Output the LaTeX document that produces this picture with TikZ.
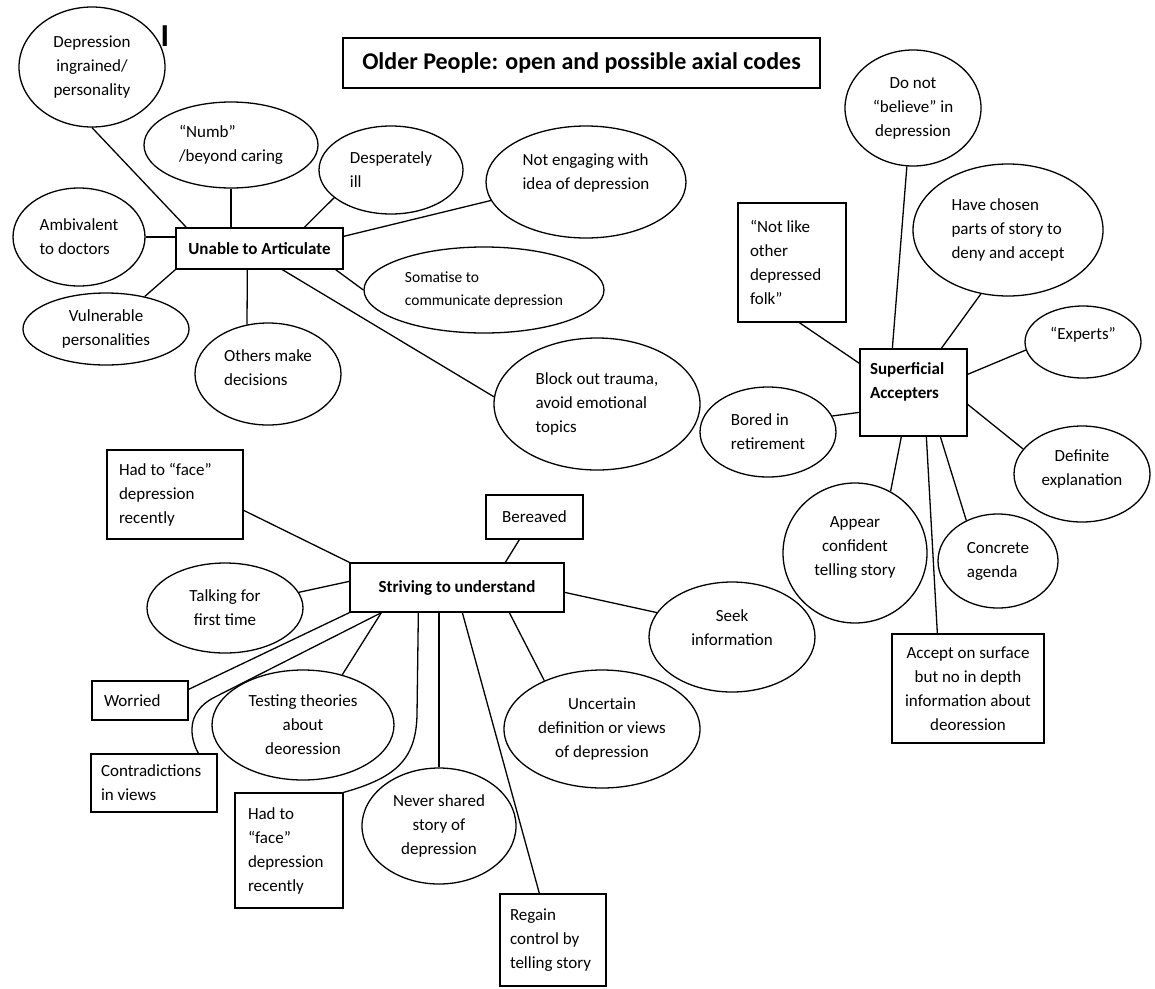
\documentclass[tikz,border=0pt]{standalone}
\usepackage{fontspec}
\setmainfont{Carlito}
\usetikzlibrary{shapes.geometric,calc}
\begin{document}
\begin{tikzpicture}[x=1pt,y=-1pt,
  every node/.style={font=\fontsize{17}{24}\selectfont, text=black},
  ell/.style={draw, ellipse, line width=1.3pt, inner sep=0pt},
  bx/.style={draw, rectangle, line width=1.3pt, inner sep=0pt},
  sz/.style 2 args={minimum width=#1, minimum height=#2},
  lb/.style={align=left, execute at begin node={\spaceskip=\fontdimen2\font\relax}},
  con/.style={line width=1.3pt},
  txt/.style={inner sep=0pt},
  hub/.style={font=\fontsize{17}{24}\selectfont\bfseries}]
\fill[white] (0,0) rectangle (1155,988);
\useasboundingbox (0,0) rectangle (1155,988);

% title
\node[bx, sz={477}{50}, font=\fontsize{24}{28}\selectfont\bfseries] (title) at (581.5,63) {Older People: open and possible axial codes};
\node[txt, font=\fontsize{32}{32}\selectfont\bfseries] (cur) at (165,36.5) {I};

% ---- Unable to Articulate cluster
\node[bx, sz={167}{41}, hub] (ua) at (259.5,248.5) {Unable to Articulate};
\node[ell, sz={146}{120}, align=center] (dep) at (92,67) {Depression\\ingrained/\\personality};
\node[ell, sz={174}{86}, align=left] (numb) at (231,145) {“Numb”\\/beyond caring};
\node[ell, sz={144}{88}, align=left] (des) at (391,170) {Desperately\\ill};
\node[ell, sz={200}{112}] (ne) at (586,182) {};
\node[txt, align=left] (net) at (586,173) {Not engaging with\\idea of depression};
\node[ell, sz={132}{98}, align=left] (amb) at (79,237) {Ambivalent\\to doctors};
\node[ell, sz={166}{72}, align=center] (vul) at (106,329) {Vulnerable\\personalities};
\node[ell, sz={146}{102}] (oth) at (268,374) {};
\node[txt, align=left] (otht) at (268,368) {Others make\\decisions};
\node[ell, sz={240}{86}, align=left, font=\fontsize{15.5}{23}\selectfont] (som) at (484,290) {Somatise to\\communicate depression};
\node[ell, sz={206}{132}, align=left] (blk) at (597,404) {Block out trauma,\\avoid emotional\\topics};

\draw[con] ($(ua.north west)+(11,0)$) -- (dep.south);
\draw[con] (numb.south) -- (numb.south |- ua.north);
\draw[con] ($(ua.north west)+(129,0)$) -- (des.206);
\draw[con] ($(ua.north east)+(0,9)$) -- (ne.191);
\draw[con] (amb.east) -- (amb.east -| ua.west);
\draw[con] (ua.south west) -- (vul.40);
\draw[con] ($(ua.south west)+(72,0)$) -- (oth.113);
\draw[con] ($(ua.south east)+(-8,0)$) -- (som.west);
\draw[con] ($(ua.south west)+(107,0)$) -- (blk.176);

% ---- Superficial Accepters cluster
\node[bx, sz={107}{87}, text width=87, inner xsep=10, lb, hub] (sa) at (913.5,392.5) {Superficial\\Accepters\\\mbox{}};
\node[ell, sz={136}{116}, align=center] (dnb) at (913,108) {Do not\\“believe” in\\depression};
\node[bx, sz={108}{119}, text width=84, inner xsep=12, lb] (nl) at (792,262.5) {“Not like\\other\\depressed\\folk”};
\node[ell, sz={190}{132}, align=left] (hc) at (1008,230) {Have chosen\\parts of story to\\deny and accept};
\node[ell, sz={116}{72}] (exp) at (1083,342) {};
\node[txt] (expt) at (1083,335) {“Experts”};
\node[ell, sz={136}{90}, align=left] (bor) at (768,432) {Bored in\\retirement};
\node[ell, sz={136}{96}] (def) at (1082,474) {};
\node[txt, align=center] (deft) at (1082,469) {Definite\\explanation};
\node[ell, sz={144}{140}] (app) at (855,553) {};
\node[txt, align=center] (appt) at (855,547) {Appear\\confident\\telling story};
\node[ell, sz={120}{94}, align=left] (cag) at (998,561) {Concrete\\agenda};
\node[bx, sz={152}{109}, align=center] (acc) at (968,688.5) {Accept on surface\\but no in depth\\information about\\deoression};

\draw[con] (dnb.264) -- ($(sa.north west)+(33,0)$);
\draw[con] ($(nl.south west)+(62,0)$) -- ($(sa.north west)+(0,15)$);
\draw[con] (hc.247) -- ($(sa.north west)+(82,0)$);
\draw[con] (exp.188) -- ($(sa.north east)+(0,26)$);
\draw[con] (bor.14) -- ($(sa.north west)+(0,64)$);
\draw[con] ($(sa.north east)+(0,56)$) -- (def.157);
\draw[con] ($(sa.south west)+(42,0)$) -- (app.60);
\draw[con] ($(sa.south west)+(67,0)$) -- ($(acc.north west)+(46,0)$);
\draw[con] ($(sa.south west)+(81,0)$) -- (cag.128);

% ---- Striving to understand cluster
\node[bx, sz={214}{49}, hub] (st) at (457,587.5) {Striving to understand};
\node[bx, sz={136}{89}, text width=112, inner xsep=12, lb] (h1) at (175,494.5) {Had to “face”\\depression\\recently};
\node[bx, sz={97}{44}] (ber) at (534.5,517) {Bereaved};
\node[ell, sz={156}{90}, align=center] (talk) at (225,608) {Talking for\\first time};
\node[bx, sz={96}{39}, text width=72, inner xsep=12, lb] (wor) at (140,700.5) {Worried};
\node[ell, sz={182}{110}, align=center] (test) at (303,725) {Testing theories\\about\\deoression};
\node[bx, sz={126}{58}, text width=106, inner xsep=10, lb] (cv) at (154,783) {Contradictions\\in views};
\node[ell, sz={196}{118}, align=center] (unc) at (602,729) {Uncertain\\definition or views\\of depression};
\node[ell, sz={166}{110}] (seek) at (732,637) {};
\node[txt, align=center] (seekt) at (732,628) {Seek\\information};
\node[bx, sz={108}{115}, text width=82, inner xsep=13, lb] (h2) at (289,850.5) {Had to\\“face”\\depression\\recently};
\node[ell, sz={154}{116}, align=center] (nev) at (439,826) {Never shared\\story of\\depression};
\node[bx, sz={106}{92}, text width=86, inner xsep=10, lb] (reg) at (553,940) {Regain\\control by\\telling story};

\draw[con] (st.north west) -- ($(h1.north east)+(0,61)$);
\draw[con] ($(st.north west)+(156,0)$) -- ($(ber.south west)+(34,0)$);
\draw[con] ($(st.north west)+(0,19)$) -- (talk.12);
\draw[con] ($(st.north east)+(0,30)$) -- (seek.162);
\draw[con] (st.south west) -- ($(wor.north east)+(0,9)$);
\draw[con] ($(cv.north west)+(108,0)$) .. controls (190,738) and (185,712) .. (215,697) -- ($(st.south west)+(32,0)$);
\draw[con] ($(st.south west)+(32,0)$) -- (test.52);
\draw[con] (h2.north east) .. controls (395,778) and (416,760) .. (417,715) -- ($(st.south west)+(69,0)$);
\draw[con] (nev.north) -- (nev.north |- st.south);
\draw[con] ($(st.south west)+(113,0)$) -- ($(reg.north west)+(40,0)$);
\draw[con] ($(st.south west)+(160,0)$) -- (unc.140);
\end{tikzpicture}
\end{document}
